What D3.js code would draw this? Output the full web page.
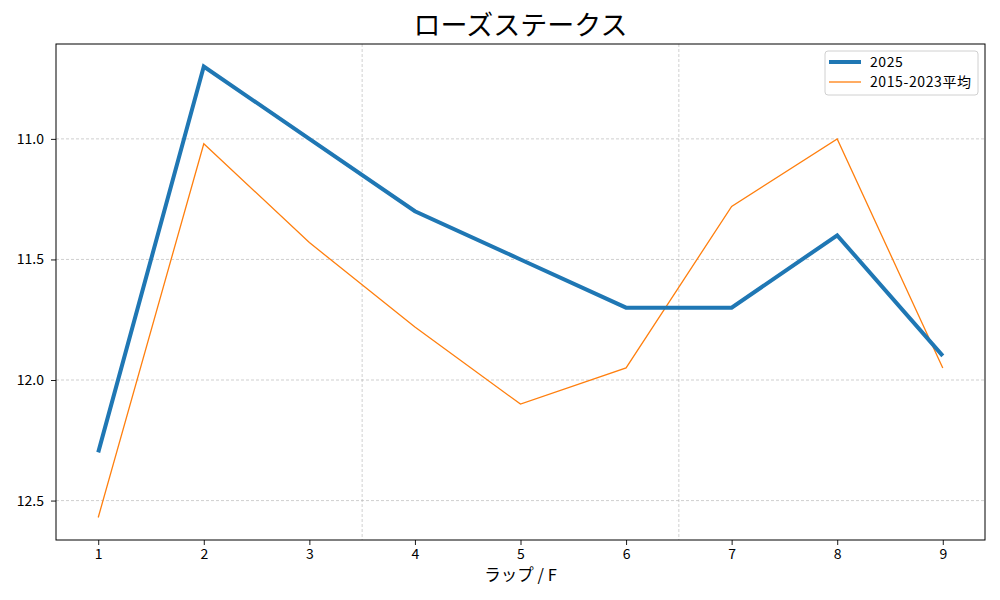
<!DOCTYPE html>
<html>
<head>
<meta charset="utf-8">
<script src="https://cdn.jsdelivr.net/npm/d3@7"></script>
<style>
  body { margin: 0; background: #fff; }
  svg { display: block; }
  text { font-family: "Noto Sans CJK JP", "Noto Sans", sans-serif; fill: #000; }
</style>
</head>
<body>
<svg id="chart"></svg>
<script>
const laps = [1, 2, 3, 4, 5, 6, 7, 8, 9];
const lap2025 = [12.3, 10.7, 11.0, 11.3, 11.5, 11.7, 11.7, 11.4, 11.9];
const lapAvg = [12.57, 11.02, 11.43, 11.78, 12.1, 11.95, 11.28, 11.0, 11.95];
const yTicks = [11.0, 11.5, 12.0, 12.5];
const sectionLines = [3.5, 6.5];
const seriesNames = ["2025", "2015-2023平均"];

const width = 1000;
const height = 600;
const margin = { top: 44, right: 15, bottom: 60, left: 56 };
const innerWidth = width - margin.left - margin.right;
const innerHeight = height - margin.top - margin.bottom;

const svg = d3.select("#chart").attr("width", width).attr("height", height);
const g = svg.append("g").attr("transform", `translate(${margin.left}, ${margin.top})`);

const xScale = d3.scaleLinear().domain([0.6, 9.4]).range([0, innerWidth]);
const allVals = lap2025.concat(lapAvg);
const lo = d3.min(allVals), hi = d3.max(allVals), pad = (hi - lo) * 0.05;
// inverted: faster laps at the top
const yScale = d3.scaleLinear().domain([lo - pad, hi + pad]).range([0, innerHeight]);

// grid
g.selectAll(".hgrid").data(yTicks).join("line").attr("class", "hgrid")
  .attr("x1", 0).attr("x2", innerWidth)
  .attr("y1", d => yScale(d)).attr("y2", d => yScale(d))
  .attr("stroke", "#b0b0b0").attr("stroke-width", 0.6).attr("stroke-dasharray", "3,2");

g.selectAll(".vgrid").data(sectionLines).join("line").attr("class", "vgrid")
  .attr("x1", d => xScale(d)).attr("x2", d => xScale(d))
  .attr("y1", 0).attr("y2", innerHeight)
  .attr("stroke", "#b0b0b0").attr("stroke-width", 0.6).attr("stroke-dasharray", "3,2");

// axes
const xAxis = d3.axisBottom(xScale).tickValues(laps).tickFormat(d3.format("d")).tickSize(5).tickPadding(4);
const yAxis = d3.axisLeft(yScale).tickValues(yTicks).tickFormat(d3.format(".1f")).tickSize(5).tickPadding(7);

const gx = g.append("g").attr("transform", `translate(0, ${innerHeight})`).call(xAxis);
const gy = g.append("g").call(yAxis);
[gx, gy].forEach(a => {
  a.select(".domain").remove();
  a.selectAll(".tick line").attr("stroke", "#000").attr("stroke-width", 0.9);
  a.selectAll(".tick text").attr("font-size", 14).attr("fill", "#000")
    .style("font-family", '"Noto Sans CJK JP", sans-serif');
});

// lines
const line = d3.line().x((d, i) => xScale(laps[i])).y(d => yScale(d));

g.append("path").datum(lapAvg)
  .attr("fill", "none").attr("stroke", "#ff7f0e").attr("stroke-width", 1.3)
  .attr("d", line);

g.append("path").datum(lap2025)
  .attr("fill", "none").attr("stroke", "#1f77b4").attr("stroke-width", 4)
  .attr("d", line);

// frame
g.append("rect").attr("x", 0).attr("y", 0).attr("width", innerWidth).attr("height", innerHeight)
  .attr("fill", "none").attr("stroke", "#000").attr("stroke-width", 1);

// title
svg.append("text").attr("text-anchor", "middle")
  .attr("x", margin.left + innerWidth / 2).attr("y", 35)
  .attr("font-size", 27).text("ローズステークス");

// x label
svg.append("text").attr("text-anchor", "middle")
  .attr("x", margin.left + innerWidth / 2).attr("y", 581)
  .attr("font-size", 16.5).text("ラップ / F");

// legend
const legend = svg.append("g").attr("transform", "translate(825, 51)");
legend.append("rect").attr("width", 153).attr("height", 44).attr("rx", 3)
  .attr("fill", "#fff").attr("fill-opacity", 0.8)
  .attr("stroke", "#d0d0d0").attr("stroke-width", 1);
const styles = [{ c: "#1f77b4", w: 4 }, { c: "#ff7f0e", w: 1.3 }];
seriesNames.forEach((name, i) => {
  const y = 11 + i * 20;
  legend.append("line").attr("x1", 4).attr("x2", 36).attr("y1", y).attr("y2", y)
    .attr("stroke", styles[i].c).attr("stroke-width", styles[i].w);
  legend.append("text").attr("x", 45).attr("y", y + 5)
    .attr("font-size", 14).attr("letter-spacing", 0.6).text(name);
});
</script>
</body>
</html>
